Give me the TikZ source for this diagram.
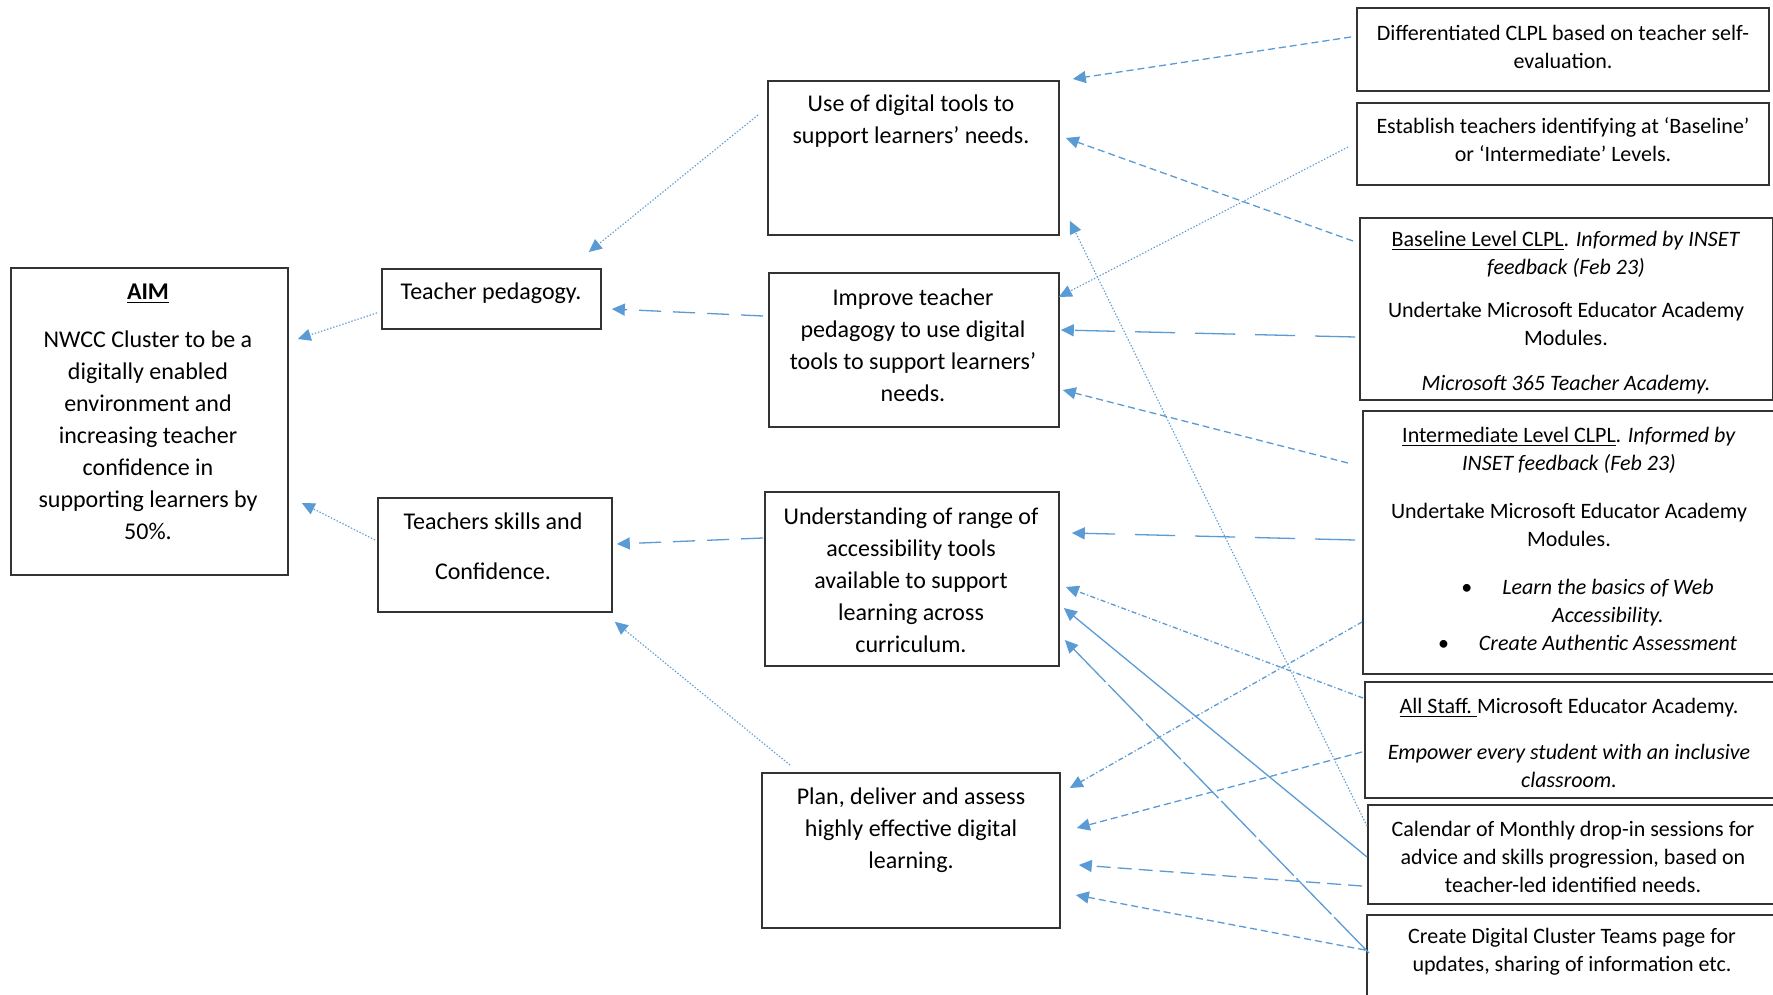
\documentclass[tikz,border=0pt]{standalone}
\usepackage{fontspec}
\setmainfont{Carlito}
\usetikzlibrary{arrows.meta,calc}
\definecolor{arr}{HTML}{5B9BD5}
\definecolor{bdr}{HTML}{333333}
\begin{document}
\begin{tikzpicture}[x=0.5pt,y=-0.5pt,
  box/.style 2 args={draw=bdr, line width=0.9pt, inner sep=0pt, anchor=north west,
    minimum width=#1*0.5pt, minimum height=#2*0.5pt},
  mtxt/.style={align=center, inner sep=0pt, font=\fontsize{12pt}{16pt}\selectfont},
  rtxt/.style={align=center, inner sep=0pt, font=\fontsize{11pt}{14pt}\selectfont},
  arw/.style={draw=arr, line width=0.65pt, -{Triangle[length=6.5pt,width=6pt]}},
  sdash/.style={dash pattern=on 3.5pt off 2pt},
  ldash/.style={dash pattern=on 20pt off 10pt},
  mdash/.style={dash pattern=on 11pt off 6pt},
  ndash/.style={dash pattern=on 7pt off 3.5pt},
  dots/.style={line width=0.55pt, dash pattern=on 0.7pt off 0.9pt},
  dashdot/.style={dash pattern=on 2.5pt off 1.2pt on 0.6pt off 1.2pt},
  lsolid/.style={dash pattern=on 25pt off 2pt},
]
\clip (0,0) rectangle (1773,995);
\fill[white] (0,0) rectangle (1773,995);

% ---------- boxes ----------
\node[box={277}{307}] (aim) at (10,267) {};
\node[box={219}{60}]  (tp)  at (381,268) {};
\node[box={234}{114}] (tsc) at (377,497) {};
\node[box={291}{154}] (use) at (767,80) {};
\node[box={290}{154}] (imp) at (768,272) {};
\node[box={294}{174}] (und) at (764,491) {};
\node[box={298}{155}] (plan) at (761,772) {};
\node[box={412}{83}]  (dif) at (1356,7) {};
\node[box={412}{82}]  (est) at (1356,102) {};
\node[box={413}{182}] (base) at (1359,217) {};
\node[box={418}{263}] (inter) at (1362,410) {};
\node[box={418}{116}] (all) at (1364,681) {};
\node[box={415}{99}]  (cal) at (1367,804) {};
\node[box={416}{100}] (cre) at (1366,914) {};

% ---------- texts ----------
\node[mtxt] (aimt) at (148,411.5) {\textbf{\underline{AIM}}\\[8pt]
  NWCC Cluster to be a\\ digitally enabled\\ environment and\\
  increasing teacher\\ confidence in\\ supporting learners by\\ 50\%.};
\node[mtxt] (tpt) at (491,293) {Teacher pedagogy.};
\node[mtxt] (tsct) at (493,546) {Teachers skills and\\[9pt] Confidence.};
\node[mtxt] (uset) at (911,121.5) {Use of digital tools to\\ support learners’ needs.};
\node[mtxt] (impt) at (913,345) {Improve teacher\\ pedagogy to use digital\\ tools to support learners’\\ needs.};
\node[mtxt] (undt) at (911,580) {Understanding of range of\\ accessibility tools\\ available to support\\ learning across\\ curriculum.};
\node[mtxt] (plant) at (911,830) {Plan, deliver and assess\\ highly effective digital\\ learning.};

\node[rtxt] (dift) at (1563,46.5) {Differentiated CLPL based on teacher self-\\ evaluation.};
\node[rtxt] (estt) at (1563,140) {Establish teachers identifying at ‘Baseline’\\ or ‘Intermediate’ Levels.};
\node[rtxt] (baset) at (1566,312.5) {\underline{Baseline Level CLPL}. \textit{Informed by INSET}\\
  \textit{feedback (Feb 23)}\\[7.5pt] Undertake Microsoft Educator Academy\\ Modules.\\[8.5pt]
  \textit{Microsoft 365 Teacher Academy.}};
\node[rtxt] (intert) at (1569,486.5) {\underline{Intermediate Level CLPL}. \textit{Informed by}\\
  \textit{INSET feedback (Feb 23)}\\[10pt] Undertake Microsoft Educator Academy\\ Modules.};
\node[rtxt] (interb) at (1608,615) {\llap{\textbullet\hspace{15pt}}\textit{Learn the basics of Web}\\
  \textit{Accessibility.}\\ \llap{\textbullet\hspace{15pt}}\textit{Create Authentic Assessment}};
\node[rtxt] (allt) at (1569,743) {\underline{All Staff.\ }Microsoft Educator Academy.\\[9pt]
  \textit{Empower every student with an inclusive}\\ \textit{classroom.}};
\node[rtxt] (calt) at (1573,856.5) {Calendar of Monthly drop-in sessions for\\ advice and skills progression, based on\\ teacher-led identified needs.};
\node[rtxt] (cret) at (1572,952) {Create Digital Cluster Teams page for\\ updates, sharing of information etc.};

% ---------- connectors ----------
\draw[arw,sdash] ($(dif.north west)+(-5,30)$) -- ($(use.north east)+(13,-1)$);
\draw[arw,sdash] ($(base.north west)+(-6,24)$) -- ($(use.north east)+(6,58)$);
\draw[arw,dots] ($(cal.north west)+(0,22)$) -- ($(use.south east)+(10,-15)$);
\draw[arw,dots] ($(est.north west)+(-8,45)$) -- ($(imp.north east)+(-1,25)$);
\draw[arw,ldash] ($(base.north west)+(-4,120)$) -- ($(imp.north east)+(1,58)$);
\draw[arw,sdash] ($(inter.north west)+(-14,53)$) -- ($(imp.north east)+(3,118)$);
\draw[arw,ldash] ($(inter.north west)+(-7,130)$) -- ($(und.north east)+(12,42)$);
\draw[arw,dashdot] ($(all.north west)+(-1,17)$) -- ($(und.north east)+(6,96)$);
\draw[arw] ($(cal.north west)+(0,53)$) -- ($(und.north east)+(4,117)$);
\draw[arw,lsolid] ($(cre.north west)+(3,39)$) -- ($(und.north east)+(5,149)$);
\draw[arw,dashdot] ($(inter.north west)+(0,212)$) -- ($(plan.north east)+(9,16)$);
\draw[arw,sdash] ($(all.north west)+(-2,71)$) -- ($(plan.north east)+(16,56)$);
\draw[arw,ndash] ($(cal.north west)+(-5,82)$) -- ($(plan.north east)+(18,93)$);
\draw[arw,sdash] ($(cre.north west)+(-1,36)$) -- ($(plan.north east)+(15,123)$);
\draw[arw,mdash] ($(imp.north west)+(-5,44)$) -- ($(tp.north east)+(10,41)$);
\draw[arw,dots] ($(use.north west)+(-9,35)$) -- ($(tp.north east)+(-13,-16)$);
\draw[arw,mdash] ($(und.north west)+(-1,47)$) -- ($(tsc.north east)+(4,47)$);
\draw[arw,dots] ($(plan.north west)+(29,-7)$) -- ($(tsc.south east)+(2,9)$);
\draw[arw,dots] ($(tp.west)+(-4,14)$) -- ($(aim.north east)+(9,72)$);
\draw[arw,dots] ($(tsc.north west)+(-2,43)$) -- ($(aim.north east)+(13,236)$);
\end{tikzpicture}
\end{document}
